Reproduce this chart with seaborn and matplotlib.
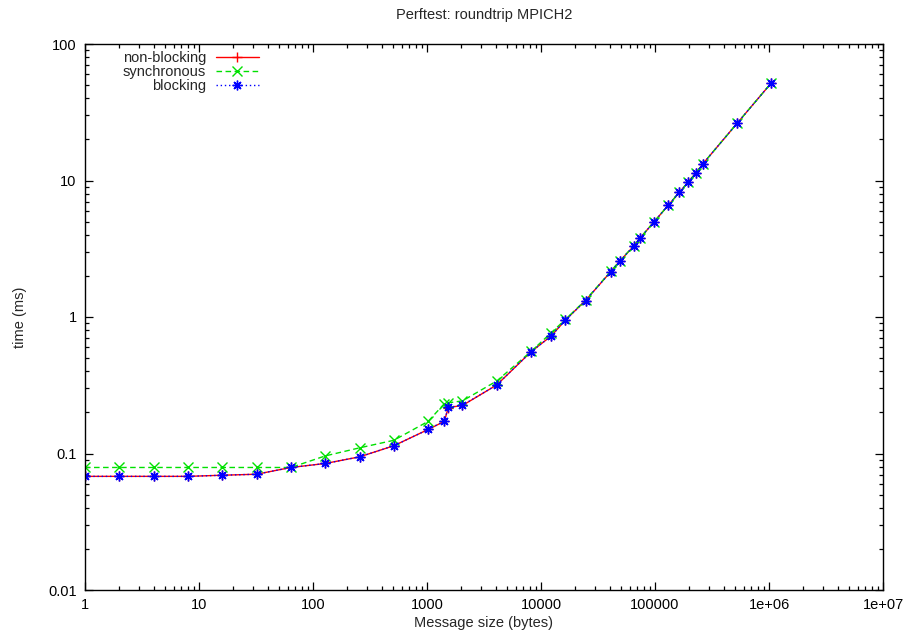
import matplotlib
matplotlib.use("Agg")
import matplotlib.pyplot as plt
import matplotlib.ticker as mticker
import numpy as np
import pandas as pd
import seaborn as sns

# ---- data ----
sizes = [1, 2, 4, 8, 16, 32, 64, 128, 256, 512, 1024, 1420, 1536, 2048,
         4096, 8192, 12288, 16384, 24576, 40960, 49152, 65536, 73728, 98304,
         131072, 163840, 196608, 229376, 262144, 524288, 1048576]

nonblocking = [0.068, 0.068, 0.068, 0.068, 0.0693, 0.0705, 0.0790, 0.0845,
               0.0945, 0.114, 0.150, 0.172, 0.217, 0.225, 0.318, 0.557,
               0.726, 0.95, 1.32, 2.15, 2.57, 3.33, 3.77, 4.99, 6.6, 8.2,
               9.8, 11.4, 13.2, 26.2, 51.9]

synchronous = [0.079, 0.079, 0.079, 0.079, 0.079, 0.079, 0.079, 0.096,
               0.110, 0.125, 0.172, 0.232, 0.235, 0.243, 0.34, 0.56,
               0.767, 0.96, 1.33, 2.16, 2.58, 3.34, 3.78, 5.0, 6.6, 8.2,
               9.8, 11.4, 13.2, 26.2, 51.9]

blocking = [0.068, 0.068, 0.068, 0.068, 0.0693, 0.0705, 0.0790, 0.0845,
            0.0945, 0.114, 0.150, 0.173, 0.218, 0.226, 0.318, 0.557,
            0.726, 0.95, 1.32, 2.15, 2.57, 3.33, 3.77, 4.99, 6.6, 8.2,
            9.8, 11.4, 13.2, 26.2, 51.9]

series_names = ["non-blocking", "synchronous", "blocking"]
xtick_vals = [1, 10, 100, 1000, 10000, 100000, 1e6, 1e7]
xtick_labels = ["1", "10", "100", "1000", "10000", "100000", "1e+06", "1e+07"]
ytick_vals = [0.01, 0.1, 1, 10, 100]
ytick_labels = ["0.01", "0.1", "1", "10", "100"]

title = "Perftest: roundtrip MPICH2"
xlabel = "Message size (bytes)"
ylabel = "time (ms)"

# ---- styling ----
FS = 10.5
sns.set_theme(style="ticks")
plt.rcParams["font.family"] = ["Liberation Sans", "DejaVu Sans"]
plt.rcParams["font.size"] = FS

fig = plt.figure(figsize=(9.06, 6.35), dpi=100)
ax = fig.add_axes([85 / 906, 1 - 590 / 635, (883 - 85) / 906, (590 - 44) / 635])

styles = {
    "non-blocking": dict(color="#ff0000", linestyle="-", marker="+"),
    "synchronous": dict(color="#00e000", linestyle=(0, (4, 2.5)), marker="x"),
    "blocking": dict(color="#0000ff", linestyle=(0, (1, 2)), marker=(8, 2, 0)),
}
values = {"non-blocking": nonblocking, "synchronous": synchronous, "blocking": blocking}

for name in series_names:
    st = styles[name]
    sns.lineplot(x=sizes, y=values[name], ax=ax, label=name, sort=False,
                 color=st["color"], linestyle=st["linestyle"], marker=st["marker"],
                 markersize=7, markeredgewidth=1.0, linewidth=1.0,
                 markeredgecolor=st["color"], markerfacecolor=st["color"])

ax.set_xscale("log")
ax.set_yscale("log")
ax.set_xlim(1, 1e7)
ax.set_ylim(0.01, 100)

ax.xaxis.set_major_locator(mticker.FixedLocator(xtick_vals))
ax.xaxis.set_major_formatter(mticker.FixedFormatter(xtick_labels))
ax.yaxis.set_major_locator(mticker.FixedLocator(ytick_vals))
ax.yaxis.set_major_formatter(mticker.FixedFormatter(ytick_labels))
ax.xaxis.set_minor_locator(mticker.LogLocator(base=10, subs=np.arange(2, 10), numticks=20))
ax.yaxis.set_minor_locator(mticker.LogLocator(base=10, subs=np.arange(2, 10), numticks=20))
ax.xaxis.set_minor_formatter(mticker.NullFormatter())
ax.yaxis.set_minor_formatter(mticker.NullFormatter())

ax.tick_params(which="both", direction="in", top=True, right=True,
               colors="black", labelsize=FS, width=0.9)
ax.tick_params(which="major", length=6, pad=6)
ax.tick_params(which="minor", length=3)
for sp in ax.spines.values():
    sp.set_visible(True)
    sp.set_color("black")
    sp.set_linewidth(1.0)

ax.set_title(title, fontsize=FS, pad=18)
ax.set_xlabel(xlabel, fontsize=FS, labelpad=3)
ax.set_ylabel(ylabel, fontsize=FS, labelpad=15)

leg = ax.legend(loc="upper left", frameon=False, markerfirst=False,
                fontsize=FS, handlelength=3.0, handletextpad=0.65,
                labelspacing=0.0, borderaxespad=0.0,
                bbox_to_anchor=(0.040, 0.997))

fig.savefig("out.png", dpi=100)
